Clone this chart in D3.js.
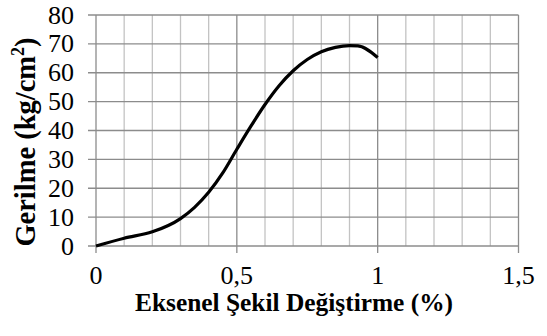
<!DOCTYPE html>
<html><head><meta charset="utf-8">
<script src="https://cdn.jsdelivr.net/npm/d3@7"></script>
<style>body{margin:0;background:#fff}svg{display:block}</style>
</head><body>
<svg id="c" width="547" height="336"></svg>
<script>
const strain = [0, 0.1, 0.2, 0.3, 0.35, 0.4, 0.45, 0.5, 0.55, 0.6, 0.65, 0.7, 0.75, 0.8, 0.85, 0.9, 0.93, 1.0];
const stress = [0, 2.7, 4.9, 9.5, 13.4, 18.6, 25.3, 33.5, 41.5, 49, 55.5, 60.7, 64.6, 67.3, 68.8, 69.4, 69.3, 65.3];
const xTicks = [0, 0.5, 1, 1.5];
const xTickLabels = ["0", "0,5", "1", "1,5"];
const yTicks = [0, 10, 20, 30, 40, 50, 60, 70, 80];
const xMinor = d3.range(0, 16).map(i => i / 10);
const xTitle = "Eksenel Şekil Değiştirme (%)";
const yTitleMain = "Gerilme (kg/cm";
const yTitleSup = "2";
const yTitleEnd = ")";

const svg = d3.select("#c");
const L = 96, R = 518.5, T = 15, B = 246;
const x = d3.scaleLinear().domain([0, 1.5]).range([L, R]);
const y = d3.scaleLinear().domain([0, 80]).range([B, T]);
const font = "'Liberation Serif','Times New Roman',serif";

// minor vertical grid
svg.append("g").selectAll("line").data(xMinor.filter(v => Math.abs(v*2 - Math.round(v*2)) > 1e-6))
  .join("line").attr("x1", d => x(d)).attr("x2", d => x(d)).attr("y1", T).attr("y2", B)
  .attr("stroke", "#c3c3c3").attr("stroke-width", 1.3);
// major vertical grid
svg.append("g").selectAll("line").data(xTicks)
  .join("line").attr("x1", d => x(d)).attr("x2", d => x(d)).attr("y1", T).attr("y2", B + 7)
  .attr("stroke", "#8c8c8c").attr("stroke-width", 1.3);
// horizontal grid
svg.append("g").selectAll("line").data(yTicks)
  .join("line").attr("x1", L - 8).attr("x2", R).attr("y1", d => y(d)).attr("y2", d => y(d))
  .attr("stroke", "#8c8c8c").attr("stroke-width", 1.3);

// tick labels
svg.append("g").selectAll("text").data(yTicks).join("text")
  .attr("x", 74).attr("y", d => y(d)).attr("dy", "0.33em")
  .attr("text-anchor", "end").attr("font-family", font).attr("font-size", 26)
  .text(d => d);
svg.append("g").selectAll("text").data(xTicks).join("text")
  .attr("x", d => x(d)).attr("y", 284)
  .attr("text-anchor", "middle").attr("font-family", font).attr("font-size", 26)
  .text((d, i) => xTickLabels[i]);

// curve
const line = d3.line().x((d, i) => x(strain[i])).y(d => y(d)).curve(d3.curveMonotoneX);
svg.append("path").datum(stress).attr("d", line)
  .attr("fill", "none").attr("stroke", "#000").attr("stroke-width", 3.2)
  .attr("stroke-linejoin", "round");

// titles
svg.append("text").attr("x", 294).attr("y", 311).attr("text-anchor", "middle")
  .attr("font-family", font).attr("font-weight", "bold").attr("font-size", 25.4).text(xTitle);
const yt = svg.append("text").attr("transform", "translate(35,142) rotate(-90)").attr("text-anchor", "middle")
  .attr("font-family", font).attr("font-weight", "bold").attr("font-size", 28.5);
yt.append("tspan").text(yTitleMain);
yt.append("tspan").attr("font-size", 18).attr("dy", -11).text(yTitleSup);
yt.append("tspan").attr("dy", 11).text(yTitleEnd);
</script>
</body></html>
